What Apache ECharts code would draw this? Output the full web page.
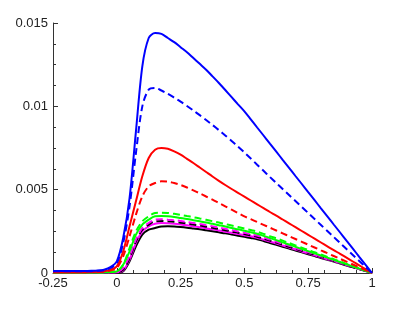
<!DOCTYPE html>
<html>
<head>
<meta charset="utf-8">
<script src="https://cdn.jsdelivr.net/npm/echarts@6/dist/echarts.min.js"></script>
<style>html,body{margin:0;padding:0;background:#fff}#c{width:412px;height:309px}</style>
</head>
<body>
<div id="c"></div>
<script>
var xs = [-0.25,-0.225,-0.2,-0.175,-0.15,-0.125,-0.1,-0.075,-0.05,-0.025,
  0,0.025,0.05,0.075,0.1,0.125,0.15,0.175,0.2,0.225,
  0.25,0.275,0.3,0.325,0.35,0.375,0.4,0.425,0.45,0.475,
  0.5,0.525,0.55,0.575,0.6,0.625,0.65,0.675,0.7,0.725,
  0.75,0.775,0.8,0.825,0.85,0.875,0.9,0.925,0.95,0.975,1];
var blueSolid = [0.00012,0.00012,0.00012,0.00012,0.00012,0.00012,0.00013,0.00015,0.0002,0.00035,
  0.0007,0.0021,0.0045,0.0085,0.0124,0.0141,0.0144,0.01435,0.0141,0.01385,
  0.01355,0.01325,0.0129,0.01255,0.0122,0.0118,0.0114,0.01098,0.01055,0.01012,
  0.0097,0.00922,0.00873,0.00825,0.00776,0.00728,0.00679,0.00631,0.00582,0.00534,
  0.00485,0.00437,0.00388,0.0034,0.00291,0.00243,0.00194,0.00146,0.00097,0.00049,0];
var blueDashed = [0.0001,0.0001,0.0001,0.0001,0.0001,0.0001,0.00011,0.00013,0.00017,0.0003,
  0.0006,0.0018,0.0040,0.0072,0.0100,0.0110,0.0111,0.01095,0.01075,0.01052,
  0.01028,0.01002,0.00975,0.00947,0.00918,0.00888,0.00857,0.00825,0.00792,0.00758,
  0.00723,0.00687,0.0065,0.00613,0.00576,0.0054,0.00504,0.00468,0.00432,0.00396,
  0.0036,0.00324,0.00288,0.00252,0.00216,0.0018,0.00144,0.00108,0.00072,0.00036,0];
var redSolid = [0.00005,0.00005,0.00005,0.00005,0.00005,0.00005,0.00006,0.00007,0.0001,0.0002,
  0.0004,0.0013,0.0028,0.0043,0.0058,0.0069,0.0074,0.0075,0.00745,0.0073,
  0.0071,0.00685,0.0066,0.00633,0.00606,0.00579,0.00553,0.00528,0.00504,0.00481,
  0.00458,0.00435,0.00412,0.00389,0.00366,0.00344,0.00321,0.00298,0.00275,0.00252,
  0.00229,0.00206,0.00183,0.0016,0.00137,0.00115,0.00092,0.00069,0.00046,0.00023,0];
var redDashed = [0.00004,0.00004,0.00004,0.00004,0.00004,0.00004,0.00004,0.00005,0.00008,0.00015,
  0.0003,0.0010,0.0022,0.0035,0.0046,0.0052,0.0054,0.0055,0.00548,0.0054,
  0.00528,0.00513,0.00496,0.00478,0.00459,0.0044,0.0042,0.0040,0.0038,0.0036,
  0.0034,0.00323,0.00306,0.00289,0.00272,0.00255,0.00238,0.00221,0.00204,0.00187,
  0.0017,0.00153,0.00136,0.00119,0.00102,0.00085,0.00068,0.00051,0.00034,0.00017,0];
var greenDashed = [0.00003,0.00003,0.00003,0.00003,0.00003,0.00003,0.00003,0.00003,0.00004,0.00006,
  0.0001,0.0005,0.0015,0.0025,0.0031,0.0034,0.0036,0.00362,0.0036,0.00355,
  0.00349,0.00342,0.00335,0.00327,0.00319,0.00311,0.00303,0.00294,0.00285,0.00276,
  0.00267,0.00258,0.00249,0.00235,0.00221,0.00208,0.00194,0.0018,0.00166,0.00152,
  0.00138,0.00125,0.00111,0.00097,0.00083,0.00069,0.00055,0.00041,0.00028,0.00014,0];
var greenSolid = [0.00003,0.00003,0.00003,0.00003,0.00003,0.00003,0.00003,0.00003,0.00004,0.00006,
  0.0001,0.0005,0.0013,0.0023,0.0029,0.0032,0.0034,0.00342,0.0034,0.00336,
  0.0033,0.00324,0.00317,0.0031,0.00303,0.00295,0.00287,0.00279,0.0027,0.00262,
  0.00253,0.00245,0.00236,0.00223,0.0021,0.00197,0.00184,0.00171,0.00157,0.00144,
  0.00131,0.00118,0.00105,0.00092,0.00079,0.00066,0.00052,0.00039,0.00026,0.00013,0];
var magDashed = [0.00003,0.00003,0.00003,0.00003,0.00003,0.00003,0.00003,0.00003,0.00003,0.00004,
  0.00006,0.0003,0.0010,0.0020,0.0027,0.0030,0.0032,0.00322,0.0032,0.00317,
  0.00312,0.00306,0.0030,0.00294,0.00287,0.0028,0.00273,0.00265,0.00257,0.00249,
  0.00241,0.00233,0.00225,0.00213,0.0020,0.00188,0.00175,0.00163,0.0015,0.00138,
  0.00125,0.00113,0.0010,0.00088,0.00075,0.00063,0.0005,0.00038,0.00025,0.00013,0];
var blackDashed = [0.00003,0.00003,0.00003,0.00003,0.00003,0.00003,0.00003,0.00003,0.00003,0.00004,
  0.00005,0.0002,0.0009,0.0019,0.0026,0.0029,0.0031,0.00312,0.0031,0.00307,
  0.00302,0.00297,0.00291,0.00285,0.00278,0.00271,0.00264,0.00257,0.00249,0.00242,
  0.00234,0.00226,0.00218,0.00206,0.00194,0.00182,0.0017,0.00157,0.00145,0.00133,
  0.00121,0.00109,0.00097,0.00085,0.00073,0.00061,0.00048,0.00036,0.00024,0.00012,0];
var magSolid = [0.00003,0.00003,0.00003,0.00003,0.00003,0.00003,0.00003,0.00003,0.00003,0.00003,
  0.00004,0.00015,0.0008,0.0018,0.0025,0.0028,0.00295,0.0030,0.00298,0.00295,
  0.00291,0.00286,0.0028,0.00274,0.00268,0.00262,0.00255,0.00248,0.00241,0.00234,
  0.00227,0.0022,0.00212,0.0020,0.00188,0.00177,0.00165,0.00153,0.00141,0.00129,
  0.00118,0.00106,0.00094,0.00082,0.00071,0.00059,0.00047,0.00035,0.00024,0.00012,0];
var blackSolid = [0.00002,0.00002,0.00002,0.00002,0.00002,0.00002,0.00002,0.00002,0.00002,0.00002,
  0.00002,0.0001,0.0007,0.0016,0.0023,0.0026,0.0027,0.00279,0.0028,0.00279,
  0.00276,0.00272,0.00267,0.00262,0.00256,0.0025,0.00244,0.00238,0.00231,0.00224,
  0.00217,0.0021,0.00203,0.00192,0.0018,0.00169,0.00158,0.00147,0.00135,0.00124,
  0.00113,0.00102,0.0009,0.00079,0.00068,0.00056,0.00045,0.00034,0.00023,0.00011,0];

function pts(v){ return xs.map(function(x,i){ return [x, v[i]]; }); }
function ser(v, color, dashed){
  return {type:'line', data:pts(v), smooth:0.3, showSymbol:false, symbol:'none', sampling:null,
    lineStyle:{color:color, width:2, type: dashed ? [7,4] : 'solid'}, animation:false};
}
var chart = echarts.init(document.getElementById('c'), null, {renderer:'canvas'});
var axisCol = '#333';
chart.setOption({
  animation:false,
  grid:{left:53, right:40, top:23, bottom:36, containLabel:false},
  xAxis:{type:'value', min:-0.25, max:1, interval:0.25,
    axisLine:{show:true, onZero:false, lineStyle:{color:axisCol, width:1}},
    axisTick:{show:true, inside:true, length:5, lineStyle:{color:axisCol}},
    minorTick:{show:true, splitNumber:4, length:3, lineStyle:{color:axisCol}},
    splitLine:{show:false},
    axisLabel:{color:'#222', fontFamily:'Liberation Sans', fontSize:13, margin:4}},
  yAxis:{type:'value', min:0, max:0.015, interval:0.005,
    axisLine:{show:true, onZero:false, lineStyle:{color:axisCol, width:1}},
    axisTick:{show:true, inside:true, length:5, lineStyle:{color:axisCol}},
    minorTick:{show:true, splitNumber:4, length:3, lineStyle:{color:axisCol}},
    splitLine:{show:false},
    axisLabel:{color:'#222', fontFamily:'Liberation Sans', fontSize:13, margin:5}},
  series:[
    ser(blackSolid,'#000000',false),
    ser(magSolid,'#ff00ff',false),
    ser(blackDashed,'#000000',true),
    ser(magDashed,'#ff00ff',true),
    ser(greenSolid,'#00ff00',false),
    ser(greenDashed,'#00ff00',true),
    ser(redDashed,'#ff0000',true),
    ser(redSolid,'#ff0000',false),
    ser(blueDashed,'#0000ff',true),
    ser(blueSolid,'#0000ff',false)
  ]
});
</script>
</body>
</html>
